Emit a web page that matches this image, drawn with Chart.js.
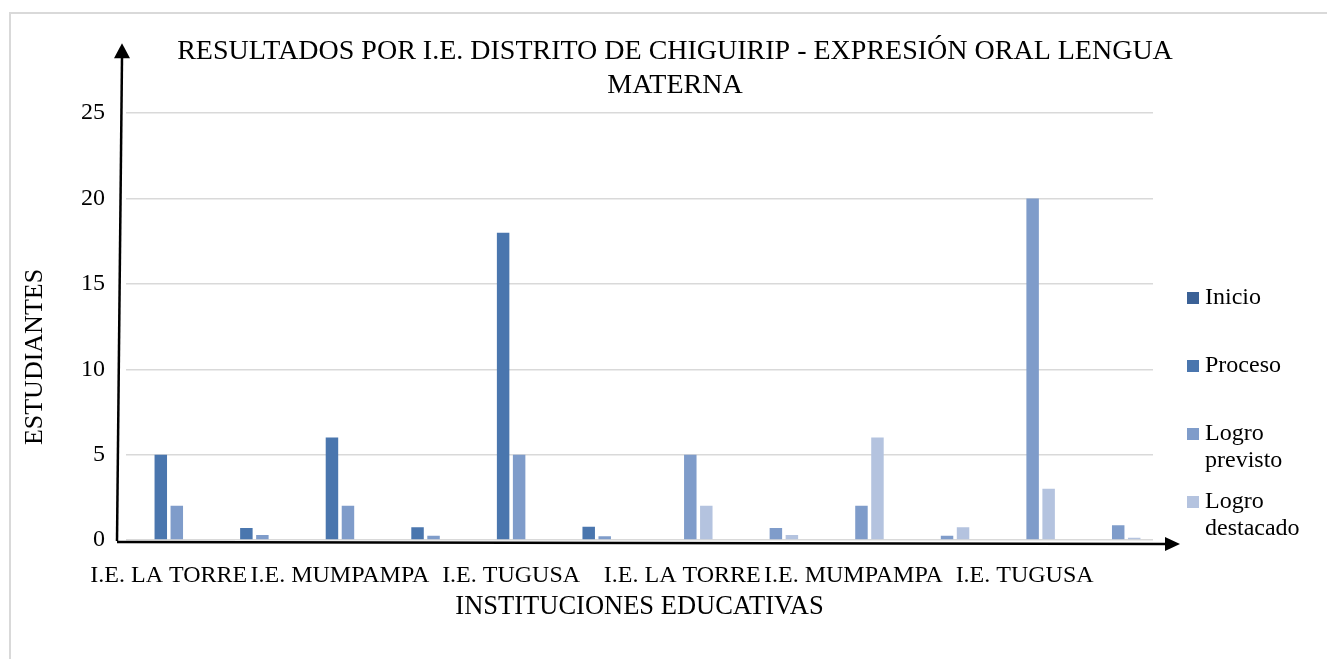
<!DOCTYPE html>
<html lang="es">
<head>
<meta charset="UTF-8">
<title>Resultados por I.E. - Expresión oral lengua materna</title>
<script src="https://cdn.jsdelivr.net/npm/chart.js"></script>
<style>
  body { margin: 0; background: #fff; }
  #wrap { position: relative; width: 1327px; height: 659px; }
</style>
</head>
<body>
<div id="wrap"><canvas id="chart"></canvas></div>
<script>
// categorias: las columnas sin nombre son las proporciones de cada I.E.
const categories = ['I.E. LA TORRE', '', 'I.E. MUMPAMPA', '', 'I.E. TUGUSA', '',
                    'I.E. LA TORRE', '', 'I.E. MUMPAMPA', '', 'I.E. TUGUSA', ''];
const seriesNames = ['Inicio', 'Proceso', 'Logro previsto', 'Logro destacado'];
const inicio         = [0, 0, 0, 0, 0, 0, 0, 0, 0, 0, 0, 0];
const proceso        = [5, 0.71, 6, 0.75, 18, 0.78, 0, 0, 0, 0, 0, 0];
const logroPrevisto  = [2, 0.29, 2, 0.25, 5, 0.22, 5, 0.71, 2, 0.25, 20, 0.87];
const logroDestacado = [0, 0, 0, 0, 0, 0, 2, 0.29, 6, 0.75, 3, 0.13];
const yTicks = [0, 5, 10, 15, 20, 25];
const titleLines = ['RESULTADOS POR I.E. DISTRITO DE CHIGUIRIP - EXPRESIÓN ORAL LENGUA', 'MATERNA'];
const xTitle = 'INSTITUCIONES EDUCATIVAS';
const yTitle = 'ESTUDIANTES';

const colors = ['#3b6196', '#4a76ae', '#7f9cca', '#b4c3df'];
const FONT = "'Liberation Serif', 'Times New Roman', serif";

// caja de leyenda a la derecha (estilo Excel, textos en dos lineas)
const legendBox = {
  position: 'right', weight: 0, fullSize: false, options: {},
  left: 0, top: 0, right: 0, bottom: 0, width: 0, height: 0,
  isHorizontal() { return false; },
  update(maxWidth, maxHeight) { this.width = 174; this.height = maxHeight; },
  draw() {
    const ctx = this.chart.ctx;
    ctx.save();
    ctx.font = '24px ' + FONT;
    ctx.textBaseline = 'middle';
    ctx.textAlign = 'left';
    this.chart.data.datasets.forEach((ds, i) => {
      const y = 298 + i * 68;
      ctx.fillStyle = ds.backgroundColor;
      ctx.fillRect(this.left + 34, y - 6, 12, 12);
      ctx.fillStyle = '#000';
      ds.label.split(' ').forEach((w, j) => ctx.fillText(w, this.left + 52, y + j * 27));
    });
    ctx.restore();
  }
};

const decor = {
  id: 'decor',
  beforeInit(chart) {
    legendBox.chart = chart;
    Chart.layouts.addBox(chart, legendBox);
  },
  beforeDraw(chart) {
    const ctx = chart.ctx;
    ctx.save();
    ctx.fillStyle = '#fff';
    ctx.fillRect(0, 0, chart.width, chart.height);
    // marco del grafico
    ctx.strokeStyle = '#d9d9d9';
    ctx.lineWidth = 2;
    ctx.beginPath();
    ctx.moveTo(10, chart.height);
    ctx.lineTo(10, 13);
    ctx.lineTo(chart.width, 13);
    ctx.stroke();
    ctx.restore();
  },
  afterDraw(chart) {
    const ctx = chart.ctx;
    const a = chart.chartArea;
    ctx.save();
    ctx.strokeStyle = '#000';
    ctx.fillStyle = '#000';
    ctx.lineWidth = 2.5;
    const x0 = a.left - 9, y0 = a.bottom + 1;
    // flecha vertical
    const tx = a.left - 4, ty = a.top - 70;
    ctx.beginPath();
    ctx.moveTo(x0, y0);
    ctx.lineTo(tx, ty + 14);
    ctx.stroke();
    ctx.beginPath();
    ctx.moveTo(tx, ty);
    ctx.lineTo(tx - 8, ty + 15);
    ctx.lineTo(tx + 8, ty + 15);
    ctx.closePath();
    ctx.fill();
    // flecha horizontal
    const hx = a.right + 27, hy = a.bottom + 4;
    ctx.beginPath();
    ctx.moveTo(x0, y0 + 1);
    ctx.lineTo(hx - 14, hy);
    ctx.stroke();
    ctx.beginPath();
    ctx.moveTo(hx, hy);
    ctx.lineTo(hx - 15, hy - 7);
    ctx.lineTo(hx - 15, hy + 7);
    ctx.closePath();
    ctx.fill();
    // titulo del eje Y
    ctx.translate(35, 357);
    ctx.rotate(-Math.PI / 2);
    ctx.font = '26px ' + FONT;
    ctx.textAlign = 'center';
    ctx.textBaseline = 'middle';
    ctx.fillText(yTitle, 0, 0);
    ctx.restore();
  }
};

const seriesData = [inicio, proceso, logroPrevisto, logroDestacado];

new Chart(document.getElementById('chart'), {
  type: 'bar',
  data: {
    labels: categories,
    datasets: seriesNames.map((name, i) => ({
      label: name,
      data: seriesData[i],
      backgroundColor: colors[i],
      borderWidth: 0,
      categoryPercentage: 0.748,
      barPercentage: 0.78
    }))
  },
  options: {
    responsive: true,
    maintainAspectRatio: false,
    animation: false,
    layout: { padding: { left: 23, right: 0, top: 0, bottom: 0 } },
    plugins: {
      legend: { display: false },
      tooltip: { enabled: false },
      title: {
        display: true,
        text: titleLines,
        color: '#000',
        font: { family: FONT, size: 28, weight: 'normal' },
        padding: { top: 35, bottom: 11 }
      }
    },
    scales: {
      x: {
        grid: { display: false },
        border: { display: false },
        ticks: { color: '#000', font: { family: FONT, size: 24 }, autoSkip: false, maxRotation: 0, padding: 13 },
        title: { display: true, text: xTitle, color: '#000', font: { family: FONT, size: 26.5 }, padding: { top: 0, bottom: 36 } },
        afterFit(scale) { scale.height = 119; }
      },
      y: {
        min: 0,
        max: 25,
        afterBuildTicks(scale) { scale.ticks = yTicks.map(v => ({ value: v })); },
        ticks: { color: '#000', font: { family: FONT, size: 24 }, padding: 21 },
        grid: { color: '#d9d9d9', lineWidth: 1.5, drawTicks: false },
        border: { display: false },
        afterFit(scale) { scale.width = 103; }
      }
    }
  },
  plugins: [decor]
});
</script>
</body>
</html>
